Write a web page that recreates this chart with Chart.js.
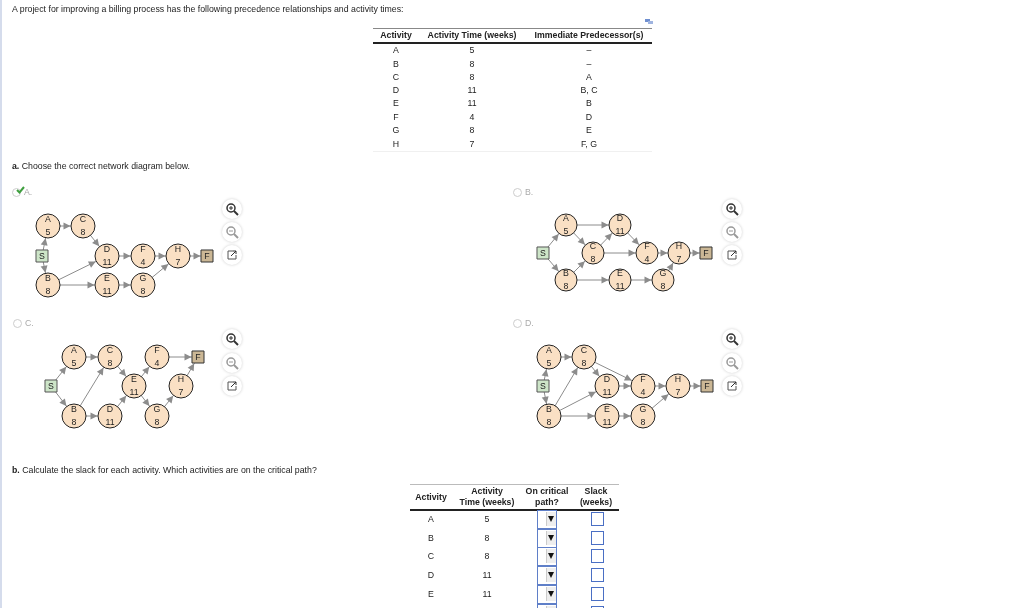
<!DOCTYPE html>
<html>
<head>
<meta charset="utf-8">
<script src="https://cdn.jsdelivr.net/npm/chart.js@4"></script>
<style>
  html, body { margin: 0; padding: 0; background: #fff; }
  body { width: 1024px; height: 608px; overflow: hidden; position: relative;
         font-family: "Liberation Sans", Arial, sans-serif; font-size: 8.75px; color: #222; }
  #net { position: absolute; left: 0; top: 0; }
  .t { position: absolute; white-space: nowrap; line-height: 10px; }
  .c { transform: translateX(-50%); text-align: center; }
  .b { font-weight: bold; }
  .rule { position: absolute; }
  .sel { position: absolute; width: 18px; height: 17px; border: 1px solid #5f7fc8; background: #fff; }
  .sel i { position: absolute; right: 0; top: 1px; width: 9px; height: 14px; background: #eee; border-left: 1px solid #ccc; }
  .sel i::after { content: ""; position: absolute; left: 1px; top: 4px; border-left: 3.5px solid transparent;
                  border-right: 3.5px solid transparent; border-top: 6px solid #111; }
  .inp { position: absolute; width: 11px; height: 12px; border: 1px solid #4a6fc4; background: #fff; }
  .radio { position: absolute; width: 7px; height: 7px; border: 1px solid #ccc; border-radius: 50%; background: #fff; }
  .btn { position: absolute; width: 20px; height: 20px; border-radius: 50%; background: #fff; box-shadow: 0 0 3px #ccc; }
  .btn svg { position: absolute; left: 3px; top: 3px; }
</style>
</head>
<body>
<canvas id="net" width="1024" height="608"></canvas>
<script>
// Activity table
const activities = ["A", "B", "C", "D", "E", "F", "G", "H"];
const activityTimes = [5, 8, 8, 11, 11, 4, 8, 7];
const predecessors = ["–", "–", "A", "B, C", "B", "D", "E", "F, G"];

// Nodes are in the same order for all four diagrams
const nodeIds = ["S", "A", "B", "C", "D", "E", "F", "G", "H", "End"];
const nodeLabels = ["S", "A", "B", "C", "D", "E", "F", "G", "H", "F"];
const nodeTimes = [null, 5, 8, 8, 11, 11, 4, 8, 7, null];

const diagramAX = [42, 48, 48, 83, 107, 107, 143, 143, 178, 207];
const diagramAY = [256, 226, 285, 226, 256, 285, 256, 285, 256, 256];
const diagramBX = [543, 566, 566, 593, 620, 620, 647, 663, 679, 706];
const diagramBY = [253, 225, 280, 253, 225, 280, 253, 280, 253, 253];
const diagramCX = [51, 74, 74, 110, 110, 134, 157, 157, 181, 198];
const diagramCY = [386, 357, 416, 357, 416, 386, 357, 416, 386, 357];
const diagramDX = [543, 549, 549, 584, 607, 607, 643, 643, 678, 707];
const diagramDY = [386, 357, 416, 357, 386, 416, 386, 416, 386, 386];

const diagramAEdges = ["S-A", "S-B", "A-C", "C-D", "B-D", "B-E", "D-F", "E-G", "F-H", "G-H", "H-End"];
const diagramBEdges = ["S-A", "S-B", "A-D", "A-C", "B-C", "B-E", "C-D", "C-F", "D-F", "E-G", "F-H", "G-H", "H-End"];
const diagramCEdges = ["S-A", "S-B", "A-C", "B-C", "B-D", "C-E", "D-E", "E-F", "E-G", "G-H", "H-End", "F-End"];
const diagramDEdges = ["S-A", "S-B", "A-C", "B-C", "B-D", "B-E", "C-D", "C-F", "D-F", "E-G", "F-H", "G-H", "H-End"];

const diagrams = [
  { xs: diagramAX, ys: diagramAY, edges: diagramAEdges, r: 12 },
  { xs: diagramBX, ys: diagramBY, edges: diagramBEdges, r: 11 },
  { xs: diagramCX, ys: diagramCY, edges: diagramCEdges, r: 12 },
  { xs: diagramDX, ys: diagramDY, edges: diagramDEdges, r: 12 }
];

const EDGE_COLOR = "#8c8c8c";
const datasets = [];
const arrows = [];

diagrams.forEach(d => {
  const pt = i => ({ x: d.xs[i], y: d.ys[i] });
  // Edges first, nodes are drawn over them
  d.edges.forEach(e => {
    const [from, to] = e.split("-").map(id => nodeIds.indexOf(id));
    datasets.push({
      type: "scatter", showLine: true, order: 3,
      data: [pt(from), pt(to)],
      borderColor: EDGE_COLOR, borderWidth: 1, pointRadius: 0
    });
    arrows.push({ from: pt(from), to: pt(to), square: nodeIds[to] === "End", r: d.r });
  });
  // Activity circles
  datasets.push({
    type: "scatter", order: 1,
    data: nodeIds.map((id, i) => pt(i)).slice(1, 9),
    pointStyle: "circle", pointRadius: d.r,
    pointBackgroundColor: "#fae0c4", pointBorderColor: "#222", pointBorderWidth: 1
  });
  // Start and finish boxes
  datasets.push({
    type: "scatter", order: 1, data: [pt(0)],
    pointStyle: "rect", pointRadius: 8.5,
    pointBackgroundColor: "#cde5c8", pointBorderColor: "#555", pointBorderWidth: 1
  });
  datasets.push({
    type: "scatter", order: 1, data: [pt(9)],
    pointStyle: "rect", pointRadius: 8.5,
    pointBackgroundColor: "#cbb795", pointBorderColor: "#333", pointBorderWidth: 1
  });
});

// Arrow heads and the letters inside the nodes
const nodeDecor = {
  id: "nodeDecor",
  afterDatasetsDraw(chart) {
    const { ctx, scales: { x, y } } = chart;
    ctx.save();
    arrows.forEach(a => {
      const x0 = x.getPixelForValue(a.from.x), y0 = y.getPixelForValue(a.from.y);
      const x1 = x.getPixelForValue(a.to.x), y1 = y.getPixelForValue(a.to.y);
      const dx = x1 - x0, dy = y1 - y0, len = Math.hypot(dx, dy);
      const ux = dx / len, uy = dy / len;
      const back = a.square ? 6.5 / Math.max(Math.abs(ux), Math.abs(uy)) : a.r + 0.5;
      const tx = x1 - ux * back, ty = y1 - uy * back;
      ctx.fillStyle = EDGE_COLOR;
      ctx.beginPath();
      ctx.moveTo(tx, ty);
      ctx.lineTo(tx - ux * 7 - uy * 3.5, ty - uy * 7 + ux * 3.5);
      ctx.lineTo(tx - ux * 7 + uy * 3.5, ty - uy * 7 - ux * 3.5);
      ctx.closePath();
      ctx.fill();
    });
    ctx.font = '8.75px "Liberation Sans", Arial, sans-serif';
    ctx.textAlign = "center";
    ctx.textBaseline = "middle";
    ctx.fillStyle = "#222";
    diagrams.forEach(d => {
      nodeIds.forEach((id, i) => {
        const px = x.getPixelForValue(d.xs[i]), py = y.getPixelForValue(d.ys[i]);
        if (nodeTimes[i] === null) {
          ctx.fillText(nodeLabels[i], px, py + 0.5);
        } else {
          ctx.fillText(nodeLabels[i], px, py - 6);
          ctx.fillText(String(nodeTimes[i]), px, py + 6.5);
        }
      });
    });
    ctx.restore();
  }
};

new Chart(document.getElementById("net"), {
  type: "scatter",
  data: { datasets: datasets },
  options: {
    responsive: false,
    animation: false,
    layout: { padding: 0, autoPadding: false },
    plugins: { legend: { display: false }, tooltip: { enabled: false } },
    scales: {
      x: { type: "linear", min: 0, max: 1024, display: false },
      y: { type: "linear", min: 0, max: 608, reverse: true, display: false }
    }
  },
  plugins: [nodeDecor]
});

// -------------------- page text around the chart --------------------
function addText(str, x, y, cls, color) {
  const el = document.createElement("div");
  el.className = "t " + (cls || "");
  el.style.left = x + "px";
  el.style.top = (y - 5) + "px";
  if (color) el.style.color = color;
  el.innerHTML = str;
  document.body.appendChild(el);
}

function addBox(cls, x, y, css) {
  const el = document.createElement("div");
  el.className = cls;
  el.style.left = x + "px";
  el.style.top = y + "px";
  Object.assign(el.style, css || {});
  document.body.appendChild(el);
  return el;
}

addBox("rule", 0, 0, { width: "1.5px", height: "608px", background: "#d5dcec" });

addText("A project for improving a billing process has the following precedence relationships and activity times:", 12, 9);
addText("<b>a.</b> Choose the correct network diagram below.", 12, 166);
addText("<b>b.</b> Calculate the slack for each activity. Which activities are on the critical path?", 12, 470);

// Top table
addBox("rule", 373, 28, { width: "279px", height: "1px", background: "#888" });
addBox("rule", 373, 42, { width: "279px", height: "2px", background: "#222" });
addBox("rule", 373, 151, { width: "279px", height: "1px", background: "#f0f0f0" });
addText("Activity", 396, 35, "c b");
addText("Activity Time (weeks)", 472, 35, "c b");
addText("Immediate Predecessor(s)", 589, 35, "c b");
const topRowY = [50, 64, 77, 90, 103, 117, 130, 144];
activities.forEach((a, i) => {
  addText(a, 396, topRowY[i], "c");
  addText(String(activityTimes[i]), 472, topRowY[i], "c");
  addText(predecessors[i], 589, topRowY[i], "c");
});
// little pop-out icon above the table
addBox("rule", 645, 19, { width: "5px", height: "3px", background: "#6f8fd0" });
addBox("rule", 648, 21, { width: "5px", height: "3px", background: "#9fb4e0" });

// Option labels
const optionLabels = ["A.", "B.", "C.", "D."];
const optionRadioX = [12, 513, 13, 513];
const optionRadioY = [188, 188, 319, 319];
optionLabels.forEach((l, i) => {
  addBox("radio", optionRadioX[i], optionRadioY[i]);
  addText(l, optionRadioX[i] + 12, optionRadioY[i] + 4, "", "#aaa");
});
// green tick on the answered option
const tick = document.createElementNS("http://www.w3.org/2000/svg", "svg");
tick.setAttribute("width", "9");
tick.setAttribute("height", "8");
tick.style.cssText = "position:absolute;left:16px;top:186px";
tick.innerHTML = '<path d="M1 4 L3.5 6.5 L8 1" fill="none" stroke="#3f9f3f" stroke-width="2"/>';
document.body.appendChild(tick);

// Zoom and pop-out buttons next to each diagram
const buttonX = [232, 732, 232, 732];
const buttonY = [209, 209, 339, 339];
const buttonGap = [23, 23, 23.5, 23.5];
const glass = (stroke, plus) => '<svg width="14" height="14"><circle cx="6" cy="6" r="4" fill="none" stroke="' + stroke +
  '" stroke-width="1.5"/><path d="M9 9 L13 13" stroke="' + stroke + '" stroke-width="2"/>' +
  '<path d="M4 6 H8' + (plus ? ' M6 4 V8' : '') + '" stroke="' + stroke + '" stroke-width="1"/></svg>';
const popout = '<svg width="14" height="14"><path d="M8 3 H3 V11 H11 V7" fill="none" stroke="#555" stroke-width="1"/>' +
  '<path d="M6 8 L11 3 M8 3 H11 V6" fill="none" stroke="#333" stroke-width="1"/></svg>';
buttonX.forEach((bx, i) => {
  addBox("btn", bx - 10, buttonY[i] - 10).innerHTML = glass("#333", true);
  addBox("btn", bx - 10, buttonY[i] + buttonGap[i] - 10).innerHTML = glass("#999", false);
  addBox("btn", bx - 10, buttonY[i] + 2 * buttonGap[i] - 10).innerHTML = popout;
});

// Bottom table
addBox("rule", 410, 484, { width: "209px", height: "1px", background: "#bbb" });
addBox("rule", 410, 509, { width: "209px", height: "1.5px", background: "#222" });
addText("Activity", 431, 497, "c b");
addText("Activity", 487, 491, "c b");
addText("Time (weeks)", 487, 502, "c b");
addText("On critical", 547, 491, "c b");
addText("path?", 547, 502, "c b");
addText("Slack", 596, 491, "c b");
addText("(weeks)", 596, 502, "c b");
const bottomRowY = [519, 537.5, 556, 575, 594, 613, 632, 651];
activities.forEach((a, i) => {
  addText(a, 431, bottomRowY[i], "c");
  addText(String(activityTimes[i]), 487, bottomRowY[i], "c");
  addBox("sel", 537, bottomRowY[i] - 9).innerHTML = "<i></i>";
  addBox("inp", 591, bottomRowY[i] - 7);
});
</script>
</body>
</html>
